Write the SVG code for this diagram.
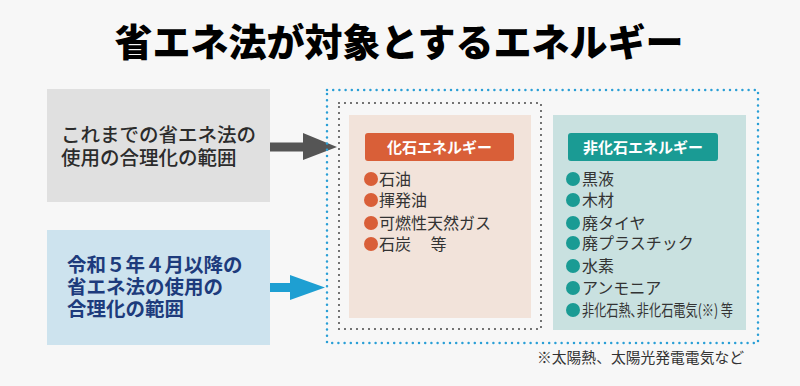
<svg xmlns="http://www.w3.org/2000/svg" width="800" height="386" viewBox="0 0 800 386">
<style>
text{font-family:"Noto Sans CJK JP","Noto Sans",sans-serif}
.title{font-size:38px;font-weight:900;fill:#000}
.gray{font-size:19.5px;font-weight:500;fill:#2b2b2b}
.blue{font-size:19.5px;font-weight:700;fill:#1d3b7c}
.lbl{font-size:15px;font-weight:700;fill:#fff}
.item{font-size:16px;fill:#333}
.note{font-size:14.5px;fill:#333}
.ob{fill:#d95f38}
.tb{fill:#1a9b94}
</style>
<rect width="800" height="386" fill="#f7f7f7"/>
<text class="title" x="399" y="56" text-anchor="middle">省エネ法が対象とするエネルギー</text>

<g id="node-current">
<rect x="47" y="89" width="223" height="113" fill="#e0e0e0"/>
<text class="gray" x="61" y="142">これまでの省エネ法の</text>
<text class="gray" x="61" y="165">使用の合理化の範囲</text>
</g>

<g id="node-new">
<rect x="47" y="230" width="223" height="115" fill="#cde3ee"/>
<text class="blue" x="67" y="272">令和５年４月以降の</text>
<text class="blue" x="67" y="294">省エネ法の使用の</text>
<text class="blue" x="67" y="316">合理化の範囲</text>
</g>

<g id="connectors">
<polygon points="270,142.5 303,142.5 303,133 337,147 303,160 303,151.5 270,151.5" fill="#555"/>
<polygon points="270,283 290,283 290,275 325,287.5 290,300 290,292 270,292" fill="#1e9fd2"/>
</g>

<g id="node-scope">
<rect x="327" y="90" width="431" height="253" fill="none" stroke="#2a9fd6" stroke-width="2.5" stroke-linecap="round" stroke-dasharray="0 6.2"/>
</g>

<g id="node-old-scope">
<rect x="339" y="103" width="202" height="226" fill="none" stroke="#555" stroke-width="2.2" stroke-linecap="round" stroke-dasharray="0 6"/>
</g>

<g id="node-fossil">
<rect x="349" y="115" width="182" height="203" fill="#f2e3da"/>
<rect x="365" y="133" width="149" height="28" rx="3" fill="#d95f38"/>
<text class="lbl" x="439.5" y="152.5" text-anchor="middle">化石エネルギー</text>
<circle class="ob" cx="371" cy="179" r="7"/>
<text class="item" x="379" y="185">石油</text>
<circle class="ob" cx="371" cy="200" r="7"/>
<text class="item" x="379" y="206">揮発油</text>
<circle class="ob" cx="371" cy="223" r="7"/>
<text class="item" x="379" y="229">可燃性天然ガス</text>
<circle class="ob" cx="371" cy="244" r="7"/>
<text class="item" x="379" y="250">石炭　 等</text>
</g>

<g id="node-nonfossil">
<rect x="553" y="115" width="193" height="215" fill="#c9e1e0"/>
<rect x="568" y="133" width="150" height="28" rx="3" fill="#1a9b94"/>
<text class="lbl" x="643" y="152.5" text-anchor="middle">非化石エネルギー</text>
<circle class="tb" cx="573" cy="179" r="7"/>
<text class="item" x="582" y="185">黒液</text>
<circle class="tb" cx="573" cy="200" r="7"/>
<text class="item" x="582" y="206">木材</text>
<circle class="tb" cx="573" cy="223" r="7"/>
<text class="item" x="582" y="229">廃タイヤ</text>
<circle class="tb" cx="573" cy="243" r="7"/>
<text class="item" x="582" y="249">廃プラスチック</text>
<circle class="tb" cx="573" cy="266" r="7"/>
<text class="item" x="582" y="272">水素</text>
<circle class="tb" cx="573" cy="288" r="7"/>
<text class="item" x="582" y="294">アンモニア</text>
<circle class="tb" cx="573" cy="310" r="7"/>
<text class="item" x="582" y="315.5" font-size="14" textLength="151" lengthAdjust="spacingAndGlyphs">非化石熱､非化石電気(※) 等</text>
</g>

<text class="note" x="537" y="362.5" textLength="207" lengthAdjust="spacingAndGlyphs">※太陽熱、太陽光発電電気など</text>
</svg>
